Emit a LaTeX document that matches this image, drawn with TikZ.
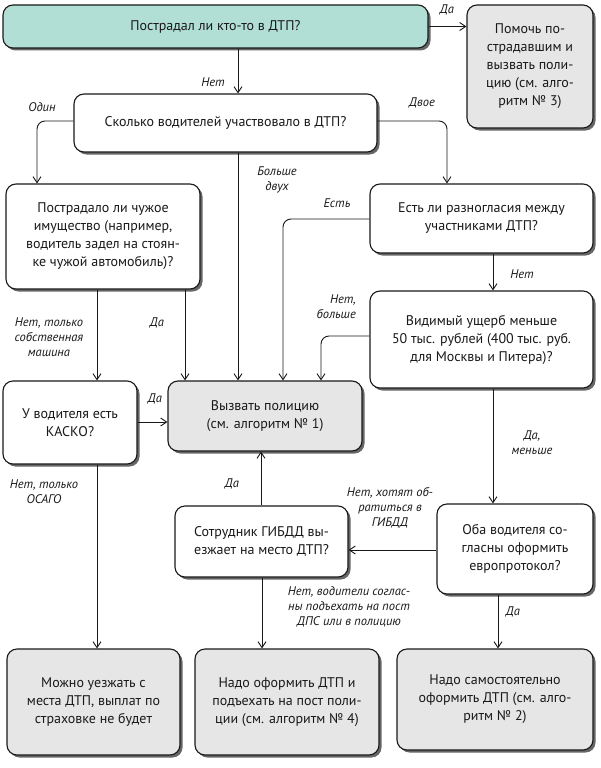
\documentclass[tikz,border=0pt]{standalone}
\usepackage{fontspec}
\setmainfont{PT Sans}
\usetikzlibrary{arrows.meta,shadows}
\definecolor{tealfill}{RGB}{178,223,213}
\definecolor{grayfill}{RGB}{230,230,230}
\definecolor{ink}{RGB}{25,25,25}
\begin{document}
\begin{tikzpicture}[x=1pt,y=-1pt,
  box/.style={draw=ink, line width=1.1pt, rounded corners=10pt, fill=white, align=center,
    font=\fontsize{14}{18}\selectfont, text=ink, inner sep=2pt,
    general shadow={fill=black!60, shadow xshift=2.5pt, shadow yshift=-2.5pt}},
  endbox/.style={box, fill=grayfill},
  startbox/.style={box, fill=tealfill},
  arr/.style={draw=ink, line width=0.9pt, -{Straight Barb[length=6pt,width=8pt]}, rounded corners=8pt},
  lbl/.style={font=\fontsize{12.5}{15}\selectfont\itshape, text=ink, align=center, inner sep=0pt}]
\fill[white] (0,0) rectangle (600,768);
\useasboundingbox (0,0) rectangle (600,768);

% boxes
\node[startbox, minimum width=425pt, minimum height=43pt] (A) at (215.5,26.5) {Пострадал ли кто-то в ДТП?};
\node[endbox, minimum width=126pt, minimum height=123pt] (B) at (530,66.5) {Помочь по-\\страдавшим и\\вызвать поли-\\цию (см. алго-\\ритм № 3)};
\node[box, minimum width=303pt, minimum height=58pt] (C) at (225.5,123) {Сколько водителей участвовало в ДТП?};
\node[box, minimum width=194pt, minimum height=105pt] (D) at (103,236.5) {Пострадало ли чужое\\имущество (например,\\водитель задел на стоян-\\ке чужой автомобиль)?};
\node[box, minimum width=223pt, minimum height=69pt] (E) at (481.5,218.5) {Есть ли разногласия между\\участниками ДТП?};
\node[box, minimum width=223pt, minimum height=97pt] (F) at (481.5,339.5) {Видимый ущерб меньше\\50 тыс. рублей (400 тыс. руб.\\для Москвы и Питера)?};
\node[box, minimum width=134pt, minimum height=83pt] (G) at (70,422.5) {У водителя есть\\КАСКО?};
\node[endbox, minimum width=194pt, minimum height=70pt] (H) at (265,416) {Вызвать полицию\\(см. алгоритм № 1)};
\node[box, minimum width=173pt, minimum height=71pt] (I) at (261.5,541.5) {Сотрудник ГИБДД вы-\\езжает на место ДТП?};
\node[box, minimum width=156pt, minimum height=90pt] (J) at (515,549) {Оба водителя со-\\гласны оформить\\европротокол?};
\node[endbox, minimum width=173pt, minimum height=106pt] (K) at (93.5,702) {Можно уезжать с\\места ДТП, выплат по\\страховке не будет};
\node[endbox, minimum width=184pt, minimum height=106pt] (L) at (287,702) {Надо оформить ДТП и\\подъехать на пост поли-\\ции (см. алгоритм № 4)};
\node[endbox, minimum width=196pt, minimum height=101pt] (M) at (495,699.5) {Надо самостоятельно\\оформить ДТП (см. алго-\\ритм № 2)};

% connectors
\draw[arr] (A.east) -- (A.east -| B.west);
\draw[arr] (A.south -| 238,0) -- (C.north -| 238,0);
\draw[arr] (C.west |- 0,121) -| (D.north -| 37,0);
\draw[arr] (C.east |- 0,121) -| (E.north -| 447,0);
\draw[arr] (C.south -| 238,0) -- (H.north -| 238,0);
\draw[arr] (E.west |- 0,219) -| (H.north -| 283,0);
\draw[arr] (E.south -| 493,0) -- (F.north -| 493,0);
\draw[arr] (F.west |- 0,336) -| (H.north -| 321,0);
\draw[arr] (D.south -| 97,0) -- (G.north -| 97,0);
\draw[arr] (D.south -| 185,0) -- (H.north -| 185,0);
\draw[arr] (G.east |- 0,422) -- (H.west |- 0,422);
\draw[arr] (G.south -| 97,0) -- (K.north -| 97,0);
\draw[arr] (F.south -| 493,0) -- (J.north -| 493,0);
\draw[arr] (J.west |- 0,550) -- (I.east |- 0,550);
\draw[arr] (I.north -| 261,0) -- (H.south -| 261,0);
\draw[arr] (I.south -| 262,0) -- (L.north -| 262,0);
\draw[arr] (J.south -| 498,0) -- (M.north -| 498,0);

% labels
\node[lbl] (l1) at (447,10) {Да};
\node[lbl] (l2) at (213,82) {Нет};
\node[lbl] (l3) at (42,107) {Один};
\node[lbl] (l4) at (422,103) {Двое};
\node[lbl] (l5) at (277,179.5) {Больше\\двух};
\node[lbl] (l6) at (337,203) {Есть};
\node[lbl] (l7) at (522,274) {Нет};
\node[lbl, align=right, anchor=east] (l8) at (356,306.5) {Нет,\\больше};
\node[lbl] (l9) at (49,337) {Нет, только\\собственная\\машина};
\node[lbl] (l10) at (157,323) {Да};
\node[lbl] (l11) at (155,399) {Да};
\node[lbl] (l12) at (44,491.5) {Нет, только\\ОСАГО};
\node[lbl] (l13) at (232,484) {Да};
\node[lbl] (l14) at (532,442.5) {Да,\\меньше};
\node[lbl] (l15) at (390,508) {Нет, хотят об-\\ратиться в\\ГИБДД};
\node[lbl] (l16) at (349,607) {Нет, водители соглас-\\ны подъехать на пост\\ДПС или в полицию};
\node[lbl] (l17) at (513,612) {Да};
\end{tikzpicture}
\end{document}
